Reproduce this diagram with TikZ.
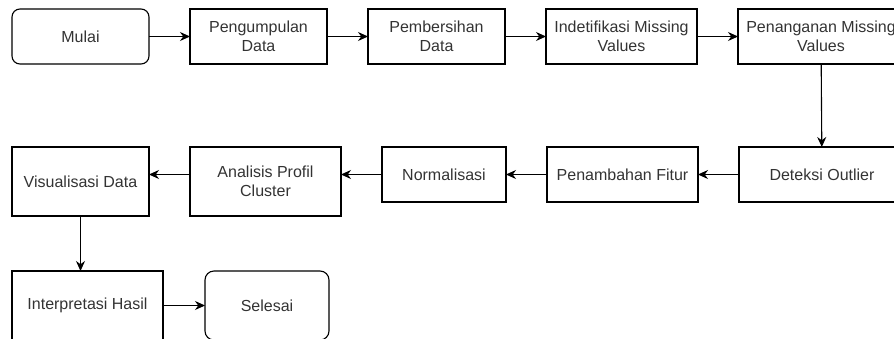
\documentclass[tikz,border=0pt]{standalone}
\usepackage{fontspec}
\setmainfont{Liberation Sans}
\usetikzlibrary{arrows.meta,positioning}
\definecolor{labeltext}{HTML}{333333}

\tikzset{
  stepbox/.style={draw, line width=1.1pt, text=labeltext, align=center,
    minimum height=55pt, inner sep=2pt, outer sep=0pt},
  termbox/.style={stepbox, rounded corners=8pt},
  flow/.style={->, line width=1.1pt}
}

\begin{document}
\begin{tikzpicture}[x=1pt, y=1pt, >={Stealth[length=10pt, width=9pt]},
    font=\fontsize{16}{19}\selectfont, node distance=41pt]
  \useasboundingbox (0,0) rectangle (894,-338);
  % row 1
  \node[termbox, minimum width=137pt, anchor=north west] (mulai) at (12,-9) {Mulai};
  \node[stepbox, minimum width=137pt, right=of mulai] (kumpul) {Pengumpulan\\Data};
  \node[stepbox, minimum width=137pt, right=of kumpul] (bersih) {Pembersihan\\Data};
  \node[stepbox, minimum width=151pt, right=of bersih] (identif) {Indetifikasi Missing\\Values};
  \node[stepbox, minimum width=166pt, right=of identif] (tangani) {Penanganan Missing\\Values};
  % row 2
  \node[stepbox, minimum width=166pt, anchor=north west] (outlier) at (739,-147) {Deteksi Outlier};
  \node[stepbox, minimum width=151pt, left=of outlier] (fitur) {Penambahan Fitur};
  \node[stepbox, minimum width=124pt, left=of fitur] (normal) {Normalisasi};
  \node[stepbox, minimum width=151pt, minimum height=69pt,
    left=41pt of normal.north west, anchor=north east] (profil) {Analisis Profil\\Cluster};
  \node[stepbox, minimum width=137pt, minimum height=69pt,
    left=of profil.north west, anchor=north east] (visual) {Visualisasi Data};
  % row 3
  \node[stepbox, minimum width=151pt, minimum height=69pt, anchor=north west] (interp) at (12,-271) {Interpretasi Hasil};
  \node[termbox, rounded corners=9pt, minimum width=124pt, minimum height=69pt, right=42pt of interp] (selesai) {Selesai};

  \draw[flow] (mulai) -- (kumpul);
  \draw[flow] (kumpul) -- (bersih);
  \draw[flow] (bersih) -- (identif);
  \draw[flow] (identif) -- (tangani);
  \draw[flow] (tangani) -- (outlier);
  \draw[flow] (outlier) -- (fitur);
  \draw[flow] (fitur) -- (normal);
  \draw[flow] (normal) -- (normal.west -| profil.east);
  \draw[flow] (profil.west |- normal.west) -- (visual.east |- normal.west);
  \draw[flow] (visual.south) -- (visual.south |- interp.north);
  \draw[flow] (interp) -- (selesai);
\end{tikzpicture}
\end{document}
